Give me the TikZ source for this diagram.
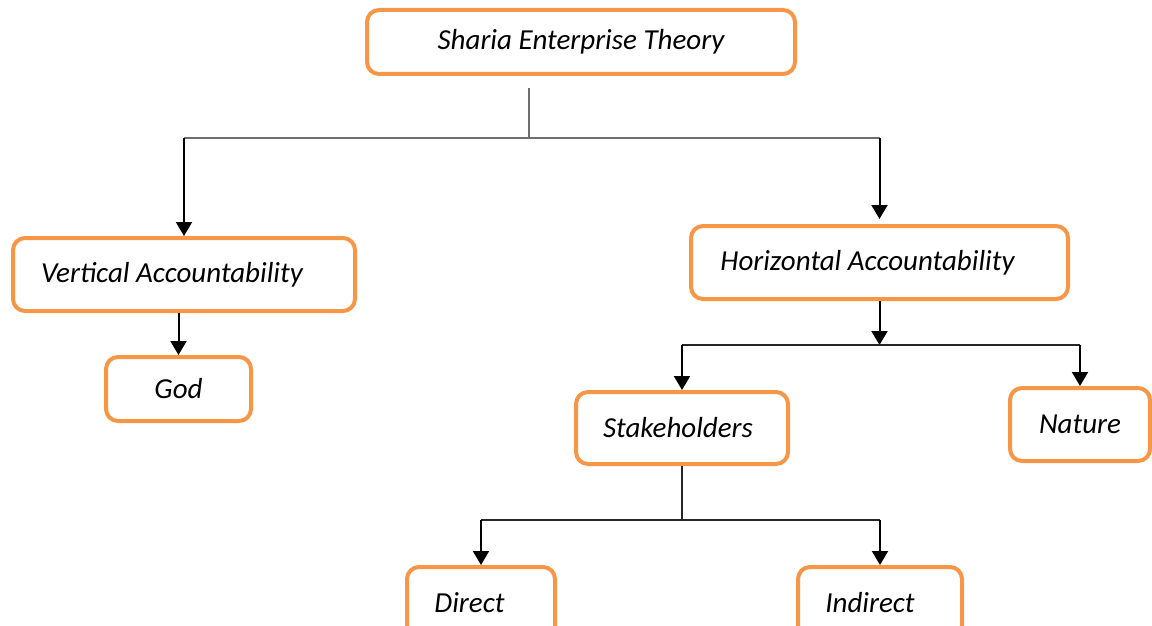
\documentclass[tikz,border=0pt]{standalone}
\usepackage{fontspec}
\setmainfont{Carlito}
\usetikzlibrary{arrows.meta}
\definecolor{boxorange}{HTML}{F79646}
\definecolor{bargray}{HTML}{6E6E6E}
\newcommand{\lowtext}[1]{\raisebox{-2.5pt}{#1}}
\tikzset{
  box/.style={draw=boxorange, line width=4pt, rounded corners=12pt, fill=white,
    inner sep=0pt, font=\fontsize{29}{34}\selectfont\itshape},
  arr/.style={draw=black, line width=2pt, -{Triangle[width=16pt,length=14pt]}},
  bar/.style={draw=bargray, line width=1.8pt},
  barb/.style={draw=black!85, line width=1.8pt}
}
\begin{document}
\begin{tikzpicture}[x=1pt,y=-1pt]
\useasboundingbox (0,0) rectangle (1152,626);
\clip (0,0) rectangle (1152,626);
% boxes
\node[box, minimum width=428pt, minimum height=64pt] (top) at (581,42) {\lowtext{Sharia Enterprise Theory}};
\node[box, minimum width=342pt, minimum height=73pt] (vert) at (184,274.5) {\lowtext{Vertical Accountability}\hspace*{24pt}};
\node[box, minimum width=145pt, minimum height=64pt] (god) at (178.5,389) {\lowtext{God}};
\node[box, minimum width=377pt, minimum height=73pt] (horiz) at (879.5,262.5) {\lowtext{Horizontal Accountability}\hspace*{24pt}};
\node[box, minimum width=212pt, minimum height=72pt] (stake) at (682,428) {\lowtext{Stakeholders}\hspace*{8pt}};
\node[box, minimum width=140pt, minimum height=73pt] (nature) at (1080,424.5) {\lowtext{Nature}};
\node[box, minimum width=148pt, minimum height=72pt] (direct) at (481,603) {\lowtext{Direct}\hspace*{23pt}};
\node[box, minimum width=164pt, minimum height=72pt] (indirect) at (880,603) {\lowtext{Indirect}\hspace*{20pt}};
% junctions
\coordinate (t1) at (529,88);
\coordinate (t2) at (529,138);
\coordinate (h2) at (879.5,345);
\coordinate (s2) at (682,520);
% top level
\draw[bar] (t1) -- (t2);
\draw[bar] (t2 -| vert.north) -- (t2 -| horiz.north);
\draw[arr] (t2 -| vert.north) -- (vert.north);
\draw[arr, shorten >=5pt] (t2 -| horiz.north) -- (horiz.north);
% vertical branch
\draw[arr] (vert.south -| god.north) -- (god.north);
% horizontal branch
\draw[arr] (horiz.south) -- (h2);
\draw[barb] (h2 -| stake.north) -- (h2 -| nature.north);
\draw[arr] (h2 -| stake.north) -- (stake.north);
\draw[arr] (h2 -| nature.north) -- (nature.north);
% stakeholders branch
\draw[barb] (stake.south) -- (s2);
\draw[barb] (s2 -| direct.north) -- (s2 -| indirect.north);
\draw[arr] (s2 -| direct.north) -- (direct.north);
\draw[arr] (s2 -| indirect.north) -- (indirect.north);
\end{tikzpicture}
\end{document}
